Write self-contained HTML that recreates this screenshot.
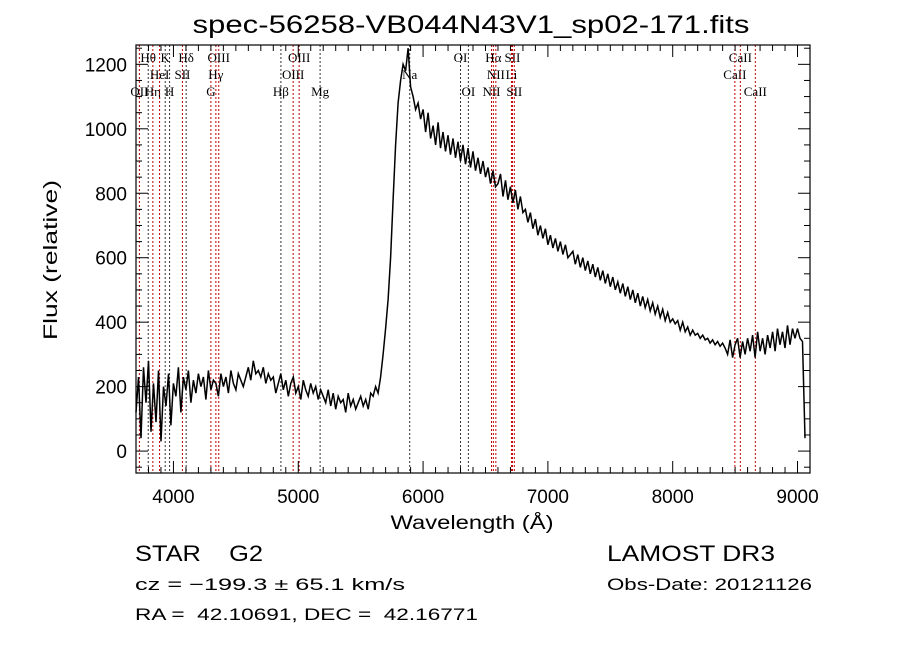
<!DOCTYPE html>
<html><head><meta charset="utf-8"><style>
html,body{margin:0;padding:0;background:#fff;}
svg{display:block;}
text{font-family:"Liberation Sans",sans-serif;fill:#000;white-space:pre;}
.lab{font-family:"Liberation Serif",serif;font-size:13px;}
</style></head><body>
<svg id="chart" width="900" height="649" viewBox="0 0 900 649" xmlns="http://www.w3.org/2000/svg" xml:space="preserve">
<rect width="900" height="649" fill="#fff"/>
<text x="471" y="33" font-size="25" text-anchor="middle" textLength="557" lengthAdjust="spacingAndGlyphs">spec-56258-VB044N43V1_sp02-171.fits</text>
<g id="lines"></g>
<g id="spec"></g>
<g id="axes"></g>
<text transform="translate(57,260) rotate(-90)" font-size="19" text-anchor="middle" textLength="160" lengthAdjust="spacingAndGlyphs">Flux (relative)</text>
<text x="472" y="529" font-size="19" text-anchor="middle" textLength="163" lengthAdjust="spacingAndGlyphs">Wavelength (Å)</text>
<text x="135" y="561" font-size="22" textLength="128" lengthAdjust="spacingAndGlyphs">STAR    G2</text>
<text x="607" y="561" font-size="22" textLength="168" lengthAdjust="spacingAndGlyphs">LAMOST DR3</text>
<text x="135" y="590" font-size="17" textLength="270" lengthAdjust="spacingAndGlyphs">cz = −199.3 ± 65.1 km/s</text>
<text x="607" y="590" font-size="17" textLength="205" lengthAdjust="spacingAndGlyphs">Obs-Date: 20121126</text>
<text x="135" y="620" font-size="17" textLength="343" lengthAdjust="spacingAndGlyphs">RA =  42.10691, DEC =  42.16771</text>
</svg>
<script>
const wlStart = 3700, wlStep = 20;
const flux = [120,230,40,260,150,280,60,210,90,250,30,200,140,240,80,
210,170,260,120,230,190,250,150,220,180,240,200,230,160,250,190,220,210,170,240,200,230,180,250,210,190,240,220,200,230,
260,220,280,240,250,230,260,210,240,220,
230,180,210,240,190,220,170,210,230,180,200,160,220,190,170,210,180,200,160,190,
170,150,190,140,180,130,170,150,160,120,180,140,160,130,150,170,140,160,130,180,
170,200,180,230,300,380,470,600,780,950,1080,1150,1200,1180,1250,1130,1100,1060,1080,1030,
1060,990,1050,970,1010,950,1020,940,990,930,980,920,970,910,960,900,950,890,940,880,930,870,910,860,900,850,880,830,870,820,
830,860,790,840,780,820,770,810,750,790,740,750,710,740,690,720,670,700,660,690,640,670,630,660,620,650,610,640,600,610,
620,580,610,570,600,560,590,550,580,540,570,530,560,520,550,510,540,500,525,490,520,480,510,470,500,460,490,450,480,445,
470,435,460,425,450,415,440,405,430,400,410,395,405,375,400,370,385,360,375,360,365,350,360,345,350,335,345,330,340,325,
335,320,300,345,290,330,350,290,340,300,350,310,360,290,370,310,350,300,360,320,370,310,380,330,370,320,390,330,380,350,
380,350,340,40];
const lineWl = [3727,3798,3835,3889,3934,3969,4072,4102,4300,4340,4363,4861,4959,5007,5175,5893,6300,6363,6548,6563,6583,6708,6716,6731,8498,8542,8662];
const labelText = ["OII","Hθ","Hη","HeI","K","H","SII","Hδ","G","Hγ","OIII","Hβ","OIII","OIII","Mg","Na","OI","OI","NII","Hα","NII","Li","SII","SII","CaII","CaII","CaII"];
const labelRow = [2,0,2,1,0,2,1,0,2,1,0,2,1,0,2,1,0,2,2,0,1,1,0,2,1,0,2];
const lineDark = [0,1,0,0,1,1,0,1,0,0,0,1,0,0,1,1,1,1,0,0,0,0,0,0,0,0,0];
const xTicks = [4000,5000,6000,7000,8000,9000];
const yTicks = [0,200,400,600,800,1000,1200];

const X0=136,X1=810,Y0=45,Y1=473,WMIN=3700,WMAX=9100,FMIN=-68,FMAX=1260;
const xs = w => X0+(w-WMIN)/(WMAX-WMIN)*(X1-X0);
const ys = f => Y1-(f-FMIN)/(FMAX-FMIN)*(Y1-Y0);
const NS="http://www.w3.org/2000/svg";
function mk(tag,parent,attrs){const e=document.createElementNS(NS,tag);for(const k in attrs)e.setAttribute(k,attrs[k]);parent.appendChild(e);return e;}

const gl=document.getElementById('lines');
lineWl.forEach((w,i)=>{
  const l=mk('line',gl,{x1:xs(w),x2:xs(w),y1:Y0,y2:Y1,stroke:lineDark[i]?'#333':'#c00000','stroke-width':1,'stroke-dasharray':'2,2'});
  
  
  const t=mk('text',gl,{x:xs(w),y:62+labelRow[i]*17,'text-anchor':'middle',class:'lab'});
  t.textContent=labelText[i];
  
  
});

const gs=document.getElementById('spec');
const pts=flux.map((f,i)=>xs(wlStart+i*wlStep).toFixed(1)+','+ys(f).toFixed(1)).join(' ');
const pl=mk('polyline',gs,{points:pts,fill:'none',stroke:'#000','stroke-width':1.5});



const ga=document.getElementById('axes');
const fr=mk('rect',ga,{x:X0,y:Y0,width:X1-X0,height:Y1-Y0,fill:'none',stroke:'#000','stroke-width':1.2});


for(let w=3700;w<=9100;w+=100){
  const major=w%1000===0, len=major?12:6, x=xs(w);
  mk('line',ga,{x1:x,x2:x,y1:Y1,y2:Y1-len,stroke:'#000'});
  mk('line',ga,{x1:x,x2:x,y1:Y0,y2:Y0+len,stroke:'#000'});
}
xTicks.forEach(w=>{
  const t=mk('text',ga,{x:xs(w),y:503,'font-size':19,'text-anchor':'middle'});
  t.textContent=w;
  
  
});
for(let f=-50;f<=1250;f+=50){
  const major=f%200===0, len=major?12:6, y=ys(f);
  mk('line',ga,{x1:X0,x2:X0+len,y1:y,y2:y,stroke:'#000'});
  mk('line',ga,{x1:X1,x2:X1-len,y1:y,y2:y,stroke:'#000'});
}
yTicks.forEach(f=>{
  const t=mk('text',ga,{x:127,y:ys(f)+7,'font-size':19,'text-anchor':'end'});
  t.textContent=f;
  
  
});
</script>
</body></html>
